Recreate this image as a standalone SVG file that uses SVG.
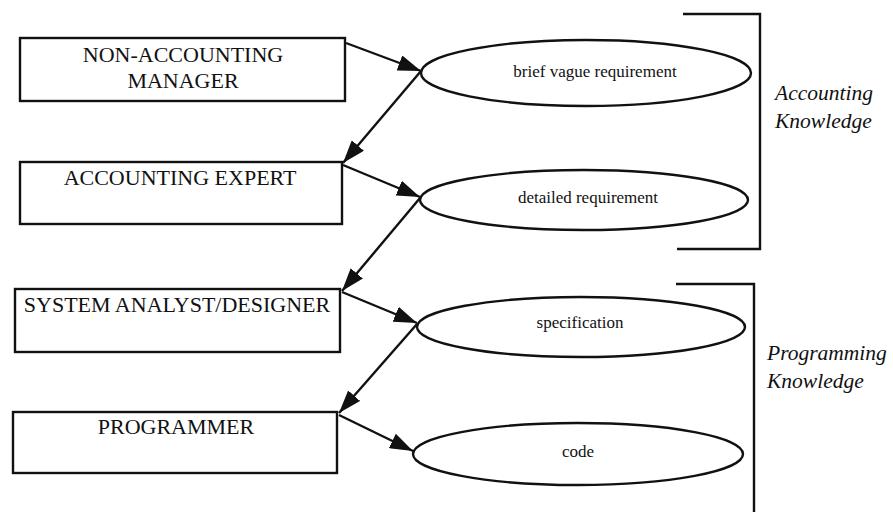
<svg xmlns="http://www.w3.org/2000/svg" width="893" height="525" viewBox="0 0 893 525">
<style>
.box{fill:#fff;stroke:#111;stroke-width:2.4}
.ell{fill:#fff;stroke:#111;stroke-width:2.4}
.bt{font-family:"Liberation Serif",serif;font-size:22px;fill:#111;text-anchor:middle}
.et{font-family:"Liberation Serif",serif;font-size:17px;fill:#111;text-anchor:middle}
.kt{font-family:"Liberation Serif",serif;font-size:21.5px;font-style:italic;fill:#111}
.con{stroke:#111;stroke-width:2.4;fill:none;marker-end:url(#ah)}
.br{stroke:#111;stroke-width:2.4;fill:none}
</style>
<defs>
<marker id="ah" markerUnits="userSpaceOnUse" markerWidth="26" markerHeight="16" refX="23" refY="8" orient="auto">
<path d="M0,0 L23,8 L0,16 Z" fill="#111"/>
</marker>
</defs>
<rect width="893" height="525" fill="#fff"/>
<g id="connectors">
<line class="con" x1="346" y1="43" x2="421" y2="71"/>
<line class="con" x1="421" y1="71" x2="343" y2="163"/>
<line class="con" x1="343" y1="165" x2="420" y2="197"/>
<line class="con" x1="420" y1="198" x2="342" y2="291"/>
<line class="con" x1="342" y1="292" x2="417" y2="323"/>
<line class="con" x1="417" y1="324" x2="339" y2="413"/>
<line class="con" x1="339" y1="415" x2="413" y2="451"/>
</g>
<g id="n-manager">
<rect class="box" x="20" y="38" width="325" height="63"/>
<text class="bt" x="183" y="62">NON-ACCOUNTING</text>
<text class="bt" x="183" y="88">MANAGER</text>
</g>
<g id="n-expert">
<rect class="box" x="20" y="162" width="322" height="62"/>
<text class="bt" x="180" y="185">ACCOUNTING EXPERT</text>
</g>
<g id="n-analyst">
<rect class="box" x="15" y="289" width="325" height="63"/>
<text class="bt" x="177" y="312">SYSTEM ANALYST/DESIGNER</text>
</g>
<g id="n-programmer">
<rect class="box" x="13" y="412" width="324" height="61"/>
<text class="bt" x="176" y="434">PROGRAMMER</text>
</g>
<g id="e-brief">
<ellipse class="ell" cx="586" cy="73" rx="165" ry="33"/>
<text class="et" x="595" y="77">brief vague requirement</text>
</g>
<g id="e-detailed">
<ellipse class="ell" cx="584" cy="200" rx="164" ry="30"/>
<text class="et" x="588" y="203">detailed requirement</text>
</g>
<g id="e-spec">
<ellipse class="ell" cx="581" cy="327" rx="164" ry="30"/>
<text class="et" x="580" y="328">specification</text>
</g>
<g id="e-code">
<ellipse class="ell" cx="578" cy="454" rx="165" ry="31"/>
<text class="et" x="578" y="457">code</text>
</g>
<g id="bracket-accounting">
<polyline class="br" points="683,14 760,14 760,249 677,249"/>
<text class="kt" x="775" y="100">Accounting</text>
<text class="kt" x="775" y="128">Knowledge</text>
</g>
<g id="bracket-programming">
<polyline class="br" points="676,284 754,284 754,512"/>
<text class="kt" x="767" y="360">Programming</text>
<text class="kt" x="767" y="388">Knowledge</text>
</g>
</svg>
